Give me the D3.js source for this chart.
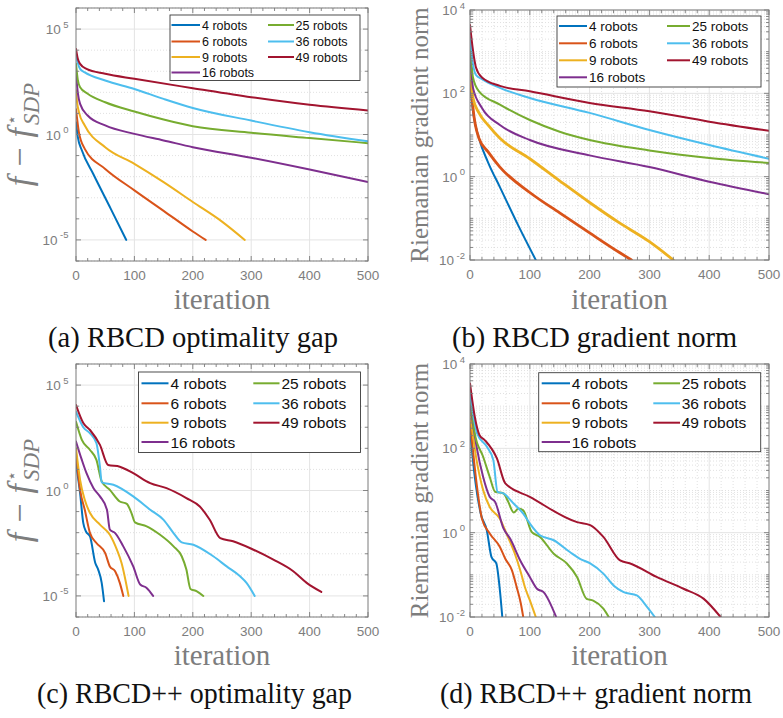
<!DOCTYPE html>
<html><head><meta charset="utf-8">
<script src="https://cdn.jsdelivr.net/npm/d3@7"></script>
<style>body{margin:0;background:#fff}</style>
</head><body><svg id="c" width="783" height="718"></svg>
<script>
// ---------------- DATA ----------------
const robotLabels = ["4 robots","6 robots","9 robots","16 robots","25 robots","36 robots","49 robots"];
const xTicks = [0,100,200,300,400,500];
const gapTicks = [1e-5,1,1e5];
const gapTickExp = ["-5","0","5"];
const gradTicks = [1e-2,1,1e2,1e4];
const gradTickExp = ["-2","0","2","4"];
const captions = ["(a) RBCD optimality gap","(b) RBCD gradient norm","(c) RBCD++ optimality gap","(d) RBCD++ gradient norm"];

// [iteration, value] pairs, series order = robotLabels
const rbcdGap = [
 [[0,3.8],[3,0.794],[10,0.178],[30,0.0126],[60,2.82e-4],[86,1e-5]],
 [[0,15.8],[5,1.26],[15,0.209],[50,0.0234],[100,2.24e-3],[150,2.4e-4],[200,2.51e-5],[222,1e-5]],
 [[0,126],[2,31.6],[5,11.5],[15,2.69],[50,0.251],[100,0.0407],[150,5.5e-3],[200,6.31e-4],[250,7.41e-5],[289,1e-5]],
 [[0,794],[3,100],[7,28.2],[20,7.94],[50,2.69],[100,1.07],[150,0.525],[200,0.251],[300,0.0794],[400,0.0219],[500,5.5e-3]],
 [[0,2240],[3,398],[7,174],[20,85.1],[50,33.9],[100,12.3],[150,5.13],[200,2.45],[300,1.2],[400,0.676],[500,0.389]],
 [[0,6610],[3,2510],[7,1290],[15,891],[50,363],[100,145],[150,49],[200,18.2],[300,4.57],[400,1.29],[500,0.479]],
 [[0,11500],[3,3980],[7,2240],[18,1290],[50,759],[100,437],[200,158],[300,58.9],[400,25.7],[500,13.8]]
];
const rbcdGrad = [
 [[0,200],[5,37.2],[15,8.32],[30,2.24],[50,0.562],[80,0.0708],[110,0.01]],
 [[0,398],[5,44.7],[15,8.32],[30,3.98],[50,1.7],[100,0.417],[150,0.135],[200,0.0447],[250,0.0151],[270,0.01]],
 [[0,724],[5,77.6],[15,33.9],[30,17.4],[50,8.32],[100,2.69],[150,0.794],[200,0.24],[250,0.0776],[300,0.0275],[340,0.01]],
 [[0,1260],[5,135],[20,44.7],[50,17.4],[100,7.59],[200,3.24],[300,1.7],[400,0.759],[500,0.38]],
 [[0,1860],[5,240],[15,112],[50,53.7],[100,22.9],[150,12],[200,7.59],[300,4.27],[400,2.82],[500,2.14]],
 [[0,2240],[5,501],[10,275],[20,219],[50,135],[100,77.6],[200,33.9],[300,13.2],[400,5.75],[500,2.69]],
 [[0,4370],[5,1070],[10,417],[20,240],[50,151],[100,112],[200,58.9],[300,37.2],[400,20.9],[500,12.6]]
];
const rbcdppGap = [
 [[0,19.5],[7,0.741],[12.5,0.0282],[17,0.0115],[24,6.61e-3],[33,3.63e-4],[38,1.78e-4],[44,4.17e-5],[48,5.62e-6]],
 [[0,58.9],[7,1.07],[15,0.123],[24,9.55e-3],[35,3.24e-3],[50,1.07e-3],[58,2.51e-4],[67,1.48e-4],[75,4.17e-5],[81,1e-5]],
 [[0,100],[7,3.16],[15,0.363],[24,0.0851],[41,0.024],[58,7.94e-3],[70,1.55e-3],[78,3.63e-4],[90,1e-5]],
 [[0,209],[10,28.2],[18,6.61],[30,1.29],[41,0.525],[53,0.123],[58,0.0138],[67,9.55e-3],[81,2.24e-3],[98,2.51e-4],[110,3.47e-5],[121,2.4e-5],[132,1e-5]],
 [[0,1820],[10,251],[24,83.2],[35,28.2],[44,2.69],[58,1.07],[75,0.302],[87,0.234],[95,0.0851],[101,0.0309],[121,0.02],[144,7.94e-3],[167,2.24e-3],[181,7.59e-4],[189,1.78e-4],[196,2.14e-5],[207,1.66e-5],[218,1e-5]],
 [[0,5500],[12.5,1000],[24,513],[35,174],[41,13.5],[44,2.45],[64,1.86],[98,0.525],[127,0.123],[150,0.0407],[167,9.55e-3],[181,3.47e-3],[201,2.69e-3],[235,7.59e-4],[258,2.51e-4],[281,8.51e-5],[292,4.17e-5],[306,1e-5]],
 [[0,11200],[12.5,1580],[24,741],[41,145],[55,16.2],[75,13.5],[98,6.61],[127,2.24],[155,1.29],[189,0.437],[212,0.174],[229,0.0407],[247,5.5e-3],[269,3.89e-3],[304,1.55e-3],[338,5.25e-4],[372,1.48e-4],[395,4.17e-5],[420,1.55e-5]]
];
const rbcdppGrad = [
 [[0,269],[8,20.9],[18,2.82],[28,1.15],[36,0.263],[44,0.186],[50,0.0427],[54,0.01]],
 [[0,468],[11,14.8],[20,2.14],[33,0.955],[50,0.457],[59,0.24],[70,0.129],[78,0.0513],[85,0.0209],[89,0.01]],
 [[0,676],[11,52.5],[22,10.2],[33,4.07],[50,2.14],[61,0.955],[75,0.316],[84,0.129],[92,0.0501],[100,0.0251],[110,0.01]],
 [[0,1170],[11,110],[22,20.9],[33,7.08],[42,5.37],[56,1.26],[67,0.724],[84,0.219],[100,0.0891],[112,0.0468],[123,0.0389],[144,0.01]],
 [[0,2000],[8,224],[22,63.1],[33,20.9],[42,9.33],[56,8.51],[64,5.37],[73,3.02],[81,3.72],[89,3.39],[103,1.05],[117,0.794],[140,0.316],[162,0.186],[179,0.0891],[195,0.0269],[206,0.0245],[223,0.0158],[232,0.01]],
 [[0,2000],[12,224],[28,110],[39,52.5],[46,9.33],[56,8.51],[73,4.9],[89,2.82],[100,1.66],[117,0.871],[140,0.661],[167,0.347],[184,0.24],[201,0.186],[223,0.107],[240,0.0562],[257,0.0389],[279,0.0324],[296,0.0174],[309,0.01]],
 [[0,3470],[8,562],[16,204],[25,155],[45,57.5],[59,14.8],[100,7.08],[179,1.78],[201,1.51],[223,0.794],[251,0.219],[268,0.186],[312,0.0891],[357,0.0468],[391,0.0269],[419,0.01]]
];

// ---------------- STYLE ----------------
const colors = ["#0072BD","#D95319","#EDB120","#7E2F8E","#77AC30","#4DBEEE","#A2142F"];
const LABEL = "#7d7d7d", AXIS = "#7a7a7a", GRID = "#e4e4e4", MINOR = "#d4d4d4";
const SANS = "'Liberation Sans', Arial, Helvetica, sans-serif";
const SERIF = "'Liberation Serif', 'Times New Roman', serif";
const svg = d3.select("#c");

const panels = [
 {id:"a", box:{l:76,r:368,t:8,b:261}, yDomain:[1e-6,1e6], ticks:gapTicks, exps:gapTickExp, data:rbcdGap, kind:"gap",
  leg:{x0:170,x1:360,y0:15,y1:80.5,rows:[25,41.5,57,72.5],c1:[171.5,200,202],c2:[268,294,295.5],fs:12.5}, widths:[2,2,2,2,2,2,2]},
 {id:"b", box:{l:470,r:769,t:10,b:260}, yDomain:[1e-2,1e4], ticks:gradTicks, exps:gradTickExp, data:rbcdGrad, kind:"grad",
  leg:{x0:557,x1:761,y0:16,y1:87,rows:[26,43.3,60.3,77.3],c1:[559,587,589],c2:[667,690,692],fs:13.5}, widths:[2,2.8,2.8,2,2,2,2]},
 {id:"c", box:{l:76,r:368,t:364,b:617}, yDomain:[1e-6,1e6], ticks:gapTicks, exps:gapTickExp, data:rbcdppGap, kind:"gap",
  leg:{x0:138.5,x1:360.5,y0:372,y1:452.5,rows:[383.3,403.3,422.7,442],c1:[141.5,168.5,170.5],c2:[253.3,279.5,281.5],fs:15.5}, widths:[2,2,2,2,2,2,2]},
 {id:"d", box:{l:470,r:769,t:364,b:617}, yDomain:[1e-2,1e4], ticks:gradTicks, exps:gradTickExp, data:rbcdppGrad, kind:"grad",
  leg:{x0:538.7,x1:760.7,y0:372.7,y1:451.7,rows:[383.3,403.3,422.7,442],c1:[541.7,570,571.7],c2:[653.3,680,681.7],fs:15.5}, widths:[2,2,2,2,2,2,2]}
];

function drawPanel(p, pi){
 const {l,r,t,b} = p.box;
 const x = d3.scaleLinear().domain([0,500]).range([l,r]);
 const y = d3.scaleLog().domain(p.yDomain).range([b,t]);
 const g = svg.append("g");
 const e0 = Math.round(Math.log10(p.yDomain[0])), e1 = Math.round(Math.log10(p.yDomain[1]));
 const isMajor = v => p.ticks.some(tk => Math.abs(Math.log10(tk) - Math.log10(v)) < 1e-6);
 let minorY = [];
 if (p.kind === "gap") {
   for (let e = e0; e <= e1; e++) { const v = Math.pow(10,e); if (!isMajor(v)) minorY.push(v); }
 } else {
   for (let e = e0; e < e1; e++) for (let k = 1; k <= 9; k++) { const v = k*Math.pow(10,e); if (!isMajor(v) && v > p.yDomain[0]) minorY.push(v); }
 }
 const minorX = d3.range(20,500,20).filter(v => v % 100 !== 0);

 // minor grid
 g.selectAll(null).data(minorY).enter().append("line")
  .attr("x1",l).attr("x2",r).attr("y1",d=>y(d)).attr("y2",d=>y(d))
  .attr("stroke",MINOR).attr("stroke-width",0.7).attr("stroke-dasharray","1,2");
 if (p.kind === "grad") {
  g.selectAll(null).data(minorX).enter().append("line")
   .attr("y1",t).attr("y2",b).attr("x1",d=>x(d)).attr("x2",d=>x(d))
   .attr("stroke",MINOR).attr("stroke-width",0.7).attr("stroke-dasharray","1,2");
 }
 // major grid
 g.selectAll(null).data(xTicks.slice(1,-1)).enter().append("line")
  .attr("y1",t).attr("y2",b).attr("x1",d=>x(d)).attr("x2",d=>x(d))
  .attr("stroke",GRID).attr("stroke-width",1);
 g.selectAll(null).data(p.ticks).enter().append("line")
  .attr("x1",l).attr("x2",r).attr("y1",d=>y(d)).attr("y2",d=>y(d))
  .attr("stroke",GRID).attr("stroke-width",1);

 // lines
 const clipId = "clip" + p.id;
 svg.append("clipPath").attr("id",clipId).append("rect").attr("x",l).attr("y",t).attr("width",r-l).attr("height",b-t);
 const line = d3.line().x(d=>x(d[0])).y(d=>y(d[1])).curve(d3.curveMonotoneX);
 g.append("g").attr("clip-path",`url(#${clipId})`).selectAll("path").data(p.data).enter().append("path")
  .attr("d",line).attr("fill","none").attr("stroke",(d,i)=>colors[i])
  .attr("stroke-width",(d,i)=>p.widths[i]).attr("stroke-linejoin","round").attr("stroke-linecap","round");

 // box
 g.append("rect").attr("x",l).attr("y",t).attr("width",r-l).attr("height",b-t)
  .attr("fill","none").attr("stroke",AXIS).attr("stroke-width",1);
 // ticks (inside, all four sides)
 const tk = (x1,y1,x2,y2) => g.append("line").attr("x1",x1).attr("y1",y1).attr("x2",x2).attr("y2",y2).attr("stroke",AXIS).attr("stroke-width",0.9);
 xTicks.forEach(v => { tk(x(v),b,x(v),b-5); tk(x(v),t,x(v),t+5); });
 minorX.forEach(v => { tk(x(v),b,x(v),b-3); tk(x(v),t,x(v),t+3); });
 p.ticks.forEach(v => { tk(l,y(v),l+5,y(v)); tk(r,y(v),r-5,y(v)); });
 minorY.forEach(v => { tk(l,y(v),l+3,y(v)); tk(r,y(v),r-3,y(v)); });

 // x tick labels
 g.selectAll(null).data(xTicks).enter().append("text")
  .attr("x",d=>x(d)).attr("y",b+18.5).attr("text-anchor","middle")
  .attr("font-family",SANS).attr("font-size",13.5).attr("fill",LABEL).text(d=>d);
 // y tick labels
 p.ticks.forEach((v,i) => {
  const tx = g.append("text").attr("x", l - (p.kind==="gap" ? 7.5 : 5)).attr("y", y(v)+5)
   .attr("text-anchor","end").attr("font-family",SANS).attr("font-size",13.5).attr("fill",LABEL);
  tx.append("tspan").text("10");
  tx.append("tspan").attr("dx",2.5).attr("dy",-6.5).attr("font-size",9.5).text(p.exps[i]);
 });

 // x label
 g.append("text").attr("x",(l+r)/2).attr("y", pi<2 ? 309 : 665).attr("text-anchor","middle")
  .attr("font-family",SERIF).attr("font-size",29).attr("fill",LABEL).text("iteration");

 // y label
 const cy = (t+b)/2;
 if (p.kind === "gap") {
  const tl = g.append("text").attr("transform",`translate(31,${cy}) rotate(-90)`).attr("text-anchor","middle")
   .attr("font-family",SERIF).attr("fill",LABEL);
  tl.append("tspan").attr("font-style","italic").attr("font-size",34).text("f");
  tl.append("tspan").attr("dx",10).attr("font-size",34).text("\u2212");
  tl.append("tspan").attr("dx",10).attr("font-style","italic").attr("font-size",34).text("f");
  tl.append("tspan").attr("dx",3).attr("dy",-14).attr("font-size",16).attr("font-family","DejaVu Sans").text("\u22C6");
  tl.append("tspan").attr("dx",-10).attr("dy",22).attr("font-style","italic").attr("font-size",23).text("SDP");
 } else {
  g.append("text").attr("transform",`translate(428,${cy}) rotate(-90)`).attr("text-anchor","middle")
   .attr("font-family",SERIF).attr("font-size",25).attr("fill",LABEL).text("Riemanian gradient norm");
 }

 // legend
 const L = p.leg;
 g.append("rect").attr("x",L.x0).attr("y",L.y0).attr("width",L.x1-L.x0).attr("height",L.y1-L.y0)
  .attr("fill","#fff").attr("stroke","#3a3a3a").attr("stroke-width",0.9);
 robotLabels.forEach((name,i) => {
  const col = i < 4 ? L.c1 : L.c2;
  const ry = L.rows[i < 4 ? i : i-4];
  g.append("line").attr("x1",col[0]).attr("x2",col[1]).attr("y1",ry).attr("y2",ry)
   .attr("stroke",colors[i]).attr("stroke-width",2);
  g.append("text").attr("x",col[2]).attr("y",ry).attr("dy","0.36em")
   .attr("font-family",SANS).attr("font-size",L.fs).attr("fill","#111").text(name);
 });
}
panels.forEach(drawPanel);

// captions
const capPos = [[48,347,290],[452,347,285],[37,703,315],[440,703,312]];
captions.forEach((c,i) => {
 svg.append("text").attr("x",capPos[i][0]).attr("y",capPos[i][1])
  .attr("font-family",SERIF).attr("font-size",30).attr("fill","#111")
  .attr("textLength",capPos[i][2]).attr("lengthAdjust","spacingAndGlyphs").text(c);
});
</script></body></html>
